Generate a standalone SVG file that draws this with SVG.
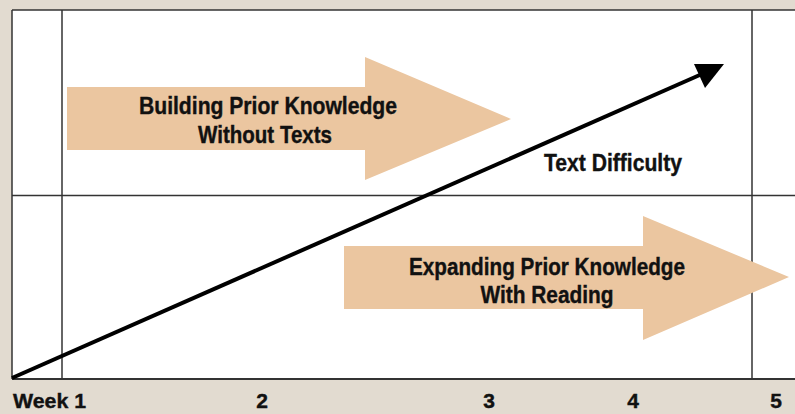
<svg xmlns="http://www.w3.org/2000/svg" width="795" height="414" viewBox="0 0 795 414">
<style>
.lbl{font-family:"Liberation Sans",Arial,sans-serif;font-weight:bold;font-size:24px;fill:#111;stroke:#111;stroke-width:0.4;text-anchor:middle}
.ax{font-size:21px}
.grid{stroke:#333;stroke-width:1.5;fill:none}
.band{fill:#ebc6a0}
</style>
<rect x="0" y="0" width="795" height="414" fill="#e2dbd0"/>
<rect x="12" y="10" width="783" height="369" fill="#fff"/>
<g id="grid">
<line class="grid" x1="12" y1="10" x2="795" y2="10" stroke="#111"/>
<line class="grid" x1="12" y1="10" x2="12" y2="379" stroke="#111"/>
<line class="grid" x1="62" y1="10" x2="62" y2="379"/>
<line class="grid" x1="752" y1="10" x2="752" y2="379"/>
<line class="grid" x1="12" y1="195.5" x2="795" y2="195.5"/>
<line x1="12" y1="379" x2="795" y2="379" stroke="#333" stroke-width="2"/>
</g>
<g id="node-building">
<polygon class="band" points="67,87 365,87 365,57 511,119 365,180 365,150 67,150"/>
<text class="lbl" x="268" y="114" textLength="258" lengthAdjust="spacingAndGlyphs">Building Prior Knowledge</text>
<text class="lbl" x="265" y="143" textLength="134" lengthAdjust="spacingAndGlyphs">Without Texts</text>
</g>
<g id="node-expanding">
<polygon class="band" points="344,246 643,246 643,216 789,277 643,340 643,309 344,309"/>
<text class="lbl" x="547" y="275" textLength="276" lengthAdjust="spacingAndGlyphs">Expanding Prior Knowledge</text>
<text class="lbl" x="547" y="303" textLength="133" lengthAdjust="spacingAndGlyphs">With Reading</text>
</g>
<g id="connectors">
<line x1="12" y1="378" x2="702" y2="74" stroke="#000" stroke-width="4"/>
<polygon points="724,64 694,64 705,88" fill="#000"/>
</g>
<g id="node-difficulty">
<text class="lbl" x="613" y="171" textLength="138" lengthAdjust="spacingAndGlyphs">Text Difficulty</text>
</g>
<g id="axis-labels">
<text class="lbl ax" x="49.5" y="408" textLength="73" lengthAdjust="spacingAndGlyphs">Week 1</text>
<text class="lbl ax" x="262" y="408">2</text>
<text class="lbl ax" x="489" y="408">3</text>
<text class="lbl ax" x="633" y="408">4</text>
<text class="lbl ax" x="776" y="408">5</text>
</g>
</svg>
